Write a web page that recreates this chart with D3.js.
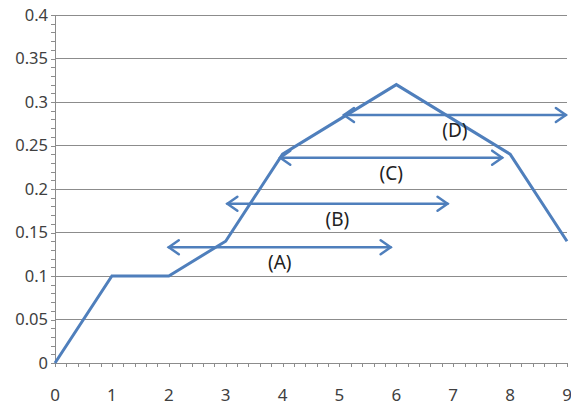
<!DOCTYPE html>
<html><head><meta charset="utf-8">
<script src="https://cdn.jsdelivr.net/npm/d3@7"></script>
<style>body{margin:0;background:#fff}svg{display:block}</style>
</head><body>
<svg id="c" width="571" height="407"></svg>
<script>
const xVals = [0,1,2,3,4,5,6,7,8,9];
const yVals = [0,0.1,0.1,0.14,0.24,0.28,0.32,0.28,0.24,0.14];
const yTicks = [0,0.05,0.1,0.15,0.2,0.25,0.3,0.35,0.4];
const xTicks = [0,1,2,3,4,5,6,7,8,9];
const arrowNames = ["(A)","(B)","(C)","(D)"];
const arrowY = [0.133,0.183,0.236,0.285];
const arrowX0 = [2.0,3.03,3.96,5.08];
const arrowX1 = [5.9,6.9,7.86,8.98];

const svg = d3.select("#c");
const m = {l:55, r:4, t:15, b:44};
const W = 571, H = 407;
const x = d3.scaleLinear().domain([0,9]).range([m.l, W-m.r]);
const y = d3.scaleLinear().domain([0,0.4]).range([H-m.b, m.t]);
const grid = "#8c8c8c", blue = "#4f7fbc";
const tickFont = "'Noto Sans', 'DejaVu Sans', sans-serif";

// gridlines
svg.append("g").selectAll("line").data(yTicks.filter(d=>d>0)).join("line")
  .attr("x1", x(0)).attr("x2", x(9)).attr("y1", d=>y(d)).attr("y2", d=>y(d))
  .attr("stroke", grid).attr("stroke-width", 1).attr("shape-rendering","crispEdges");

// y axis
const ya = svg.append("g").attr("transform", `translate(${x(0)},0)`)
  .call(d3.axisLeft(y).tickValues(d3.range(0,0.4001,0.01)).tickSize(4).tickFormat(""));
ya.selectAll("path,line").attr("stroke", grid).attr("shape-rendering","crispEdges");
svg.append("g").selectAll("text").data(yTicks).join("text")
  .attr("x", x(0)-7).attr("y", d=>y(d)).attr("dy","0.35em").attr("text-anchor","end")
  .attr("font-family",tickFont).attr("font-size",16.5).attr("fill","#404040")
  .text(d=>d3.format("")(+d.toFixed(2)));

// x axis
const xa = svg.append("g").attr("transform", `translate(0,${y(0)})`)
  .call(d3.axisBottom(x).tickValues(d3.range(0,9.0001,0.2)).tickSize(4).tickFormat(""));
xa.selectAll("path,line").attr("stroke", grid).attr("shape-rendering","crispEdges");
xa.select("path").attr("d", `M${x(0)},0.5H${x(9)}`);
svg.append("g").selectAll("text").data(xTicks).join("text")
  .attr("x", d=>x(d)).attr("y", y(0)+38).attr("text-anchor","middle")
  .attr("font-family",tickFont).attr("font-size",17).attr("fill","#404040")
  .text(d=>d);

// line
svg.append("path").datum(xVals.map((d,i)=>[d,yVals[i]]))
  .attr("d", d3.line().x(d=>x(d[0])).y(d=>y(d[1])))
  .attr("fill","none").attr("stroke", blue).attr("stroke-width",3).attr("stroke-linejoin","miter");

// arrows
const ag = svg.append("g");
arrowNames.forEach((n,i)=>{
  const yy = y(arrowY[i]), xa0 = x(arrowX0[i]), xa1 = x(arrowX1[i]);
  const g = ag.append("g").attr("stroke", blue).attr("stroke-width",2.5).attr("fill","none").attr("stroke-linecap","round");
  g.append("line").attr("x1",xa0).attr("x2",xa1).attr("y1",yy).attr("y2",yy);
  g.append("path").attr("d",`M${xa0+10},${yy-7}L${xa0},${yy}L${xa0+10},${yy+7}`);
  g.append("path").attr("d",`M${xa1-10},${yy-7}L${xa1},${yy}L${xa1-10},${yy+7}`);
  ag.append("text").attr("x",(xa0+xa1)/2).attr("y",yy+22).attr("text-anchor","middle")
    .attr("font-family","'Noto Sans', 'DejaVu Sans', sans-serif").attr("font-size",19).attr("fill","#222")
    .text(n);
});
</script>
</body></html>
